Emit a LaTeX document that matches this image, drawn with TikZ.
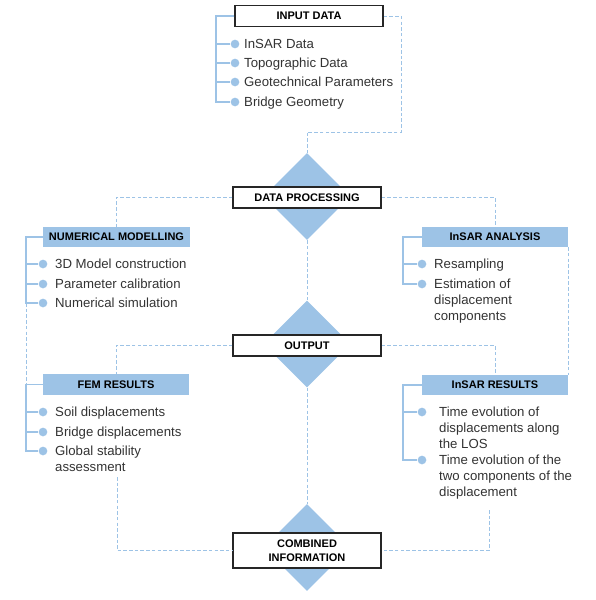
\documentclass[tikz,border=0pt]{standalone}
\usepackage{fontspec}
\setmainfont{Liberation Sans}
\usetikzlibrary{shapes.geometric}
\definecolor{lblue}{HTML}{9DC3E6}
\definecolor{dline}{HTML}{9DC3E6}
\definecolor{tgray}{HTML}{333333}
\definecolor{bord}{HTML}{262626}
\newcommand\mlines[1]{\begin{tabular}[t]{@{}l@{}}#1\end{tabular}}
\tikzset{
 wbox/.style={draw=bord, line width=1.5pt, fill=white, minimum width=148pt, minimum height=21pt, inner sep=0pt, font=\fontsize{11}{13}\selectfont\bfseries, align=center},
 bbox/.style={fill=lblue, minimum width=147pt, minimum height=20pt, inner sep=0pt, font=\fontsize{11}{13}\selectfont\bfseries},
 dia/.style={shape=diamond, fill=lblue, minimum width=87pt, minimum height=87pt, inner sep=0pt},
 dot/.style={circle, fill=lblue, minimum size=8.7pt, inner sep=0pt},
 item/.style={anchor=base west, inner sep=0pt, text=tgray, font=\fontsize{13.2}{16}\selectfont},
 branch/.style={draw=lblue, line width=1.3pt},
 flow/.style={draw=dline, line width=1pt, dash pattern=on 3.5pt off 2.2pt},
}
\begin{document}
\begin{tikzpicture}[x=1pt,y=-1pt]
\useasboundingbox (0,0) rectangle (595,600);
% diamonds
\node[dia] (dpD) at (307,196.5) {};
\node[dia] (outD) at (307,344) {};
\node[dia] (combD) at (307,547.5) {};
% main boxes
\node[wbox] (inp) at (309,16) {INPUT DATA};
\node[wbox] (dp) at (307,197.5) {DATA PROCESSING};
\node[wbox] (out) at (307,345.5) {OUTPUT};
\node[wbox, minimum height=35pt] (comb) at (307,550.5) {COMBINED\\[1.5pt]INFORMATION};
% blue boxes
\node[bbox] (nm) at (116.5,237) {NUMERICAL MODELLING};
\node[bbox, minimum width=146pt] (ia) at (495,237) {InSAR ANALYSIS};
\node[bbox, minimum width=146pt, minimum height=21pt] (fem) at (116,384.5) {FEM RESULTS};
\node[bbox, minimum width=146pt] (ir) at (495,385) {InSAR RESULTS};
% spine coordinates
\coordinate (inpS) at (216,16);
\coordinate (nmS) at (26,237);
\coordinate (femS) at (26,384.5);
\coordinate (iaS) at (403,237);
\coordinate (irS) at (403,385);
\coordinate (femOut) at (117,477);
\coordinate (irOut) at (489,510);
% bullets
\node[dot] (ib1) at (235,44) {};
\node[dot] (ib2) at (235,63) {};
\node[dot] (ib3) at (235,82) {};
\node[dot] (ib4) at (235,102) {};
\node[dot] (nb1) at (43,264) {};
\node[dot] (nb2) at (43,284) {};
\node[dot] (nb3) at (43,303) {};
\node[dot] (ab1) at (422,264) {};
\node[dot] (ab2) at (422,284) {};
\node[dot] (fb1) at (43,412) {};
\node[dot] (fb2) at (43,432) {};
\node[dot] (fb3) at (43,451) {};
\node[dot] (rb1) at (422,412) {};
\node[dot] (rb2) at (422,460) {};
% items
\node[item] (it1) at (244,48.7) {InSAR Data};
\node[item] (it2) at (244,67.7) {Topographic Data};
\node[item] (it3) at (244,86.7) {Geotechnical Parameters};
\node[item] (it4) at (244,106.7) {Bridge Geometry};
\node[item] (nt1) at (55,268.7) {3D Model construction};
\node[item] (nt2) at (55,288.7) {Parameter calibration};
\node[item] (nt3) at (55,307.7) {Numerical simulation};
\node[item] (at1) at (434,268.7) {Resampling};
\node[item] (at2) at (434,288.7) {\mlines{Estimation of\\displacement\\components}};
\node[item] (ft1) at (55,416.7) {Soil displacements};
\node[item] (ft2) at (55,436.7) {Bridge displacements};
\node[item] (ft3) at (55,455.7) {\mlines{Global stability\\assessment}};
\node[item] (rt1) at (439,416.7) {\mlines{Time evolution of\\displacements along\\the LOS}};
\node[item] (rt2) at (439,464.7) {\mlines{Time evolution of the\\two components of the\\displacement}};
% solid branches
\draw[branch] (inp.west) -- (inpS) |- (ib4);
\foreach \b in {ib1,ib2,ib3} \draw[branch] (\b -| inpS) -- (\b);
\draw[branch] (nm.west) -- (nmS) |- (nb3);
\foreach \b in {nb1,nb2} \draw[branch] (\b -| nmS) -- (\b);
\draw[branch] (ia.west) -- (iaS) |- (ab2);
\draw[branch] (ab1 -| iaS) -- (ab1);
\draw[branch] (fem.west) -- (femS) |- (fb3);
\foreach \b in {fb1,fb2} \draw[branch] (\b -| femS) -- (\b);
\draw[branch] (ir.west) -- (irS) |- (rb2);
\draw[branch] (rb1 -| irS) -- (rb1);
% dashed flows
\draw[flow] (inp.east) -| (401,132) -| (dpD.north);
\draw[flow] (dp.west) -| (nm.north);
\draw[flow] (dp.east) -| (ia.north);
\draw[flow] (dpD.south) -- (outD.north);
\draw[flow] (out.west) -| (fem.north);
\draw[flow] (out.east) -| (ir.north);
\draw[flow] (ia.south east) -- (ir.north east);
\draw[flow] (nb3 -| nmS) -- (femS);
\draw[flow] (outD.south) -- (combD.north);
\draw[flow] (femOut) |- (comb.west);
\draw[flow] (irOut) |- (comb.east);
\end{tikzpicture}
\end{document}
